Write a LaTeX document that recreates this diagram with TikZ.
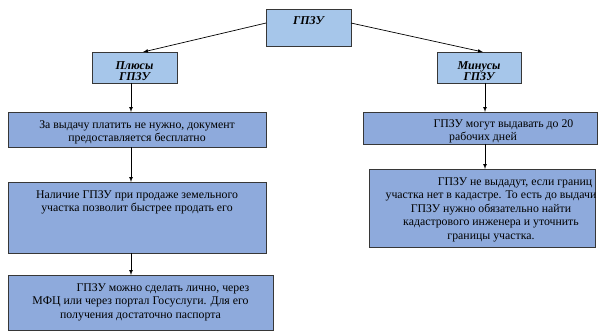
\documentclass[tikz,border=0pt]{standalone}
\usepackage{fontspec}
\setmainfont{Liberation Serif}
\usetikzlibrary{arrows, positioning}

\definecolor{headblue}{RGB}{166,198,234}
\definecolor{itemblue}{RGB}{142,170,220}
\definecolor{edgegray}{RGB}{55,55,55}

\tikzset{
  headbox/.style={draw=edgegray, line width=0.8pt, fill=headblue, anchor=north west, inner sep=0pt, outer sep=0pt},
  itembox/.style={draw=edgegray, line width=0.8pt, fill=itemblue, anchor=north west, inner sep=0pt, outer sep=0pt},
  headtext/.style={font=\fontsize{12}{11.5}\selectfont\bfseries\itshape, align=center, inner sep=0pt},
  itemtext/.style={font=\fontsize{11.8}{13.5}\selectfont, align=center, inner sep=0pt},
  link/.style={line width=0.7pt, black}
}

\begin{document}
\begin{tikzpicture}[x=1pt, y=1pt]
    \clip (0,0) rectangle (603,331);
    \fill[white] (0,0) rectangle (603,331);

    % header boxes
    \node[headbox, minimum width=85pt, minimum height=37pt] (top) at (266,322) {};
    \node[headbox, minimum width=85pt, minimum height=31pt] (plus) at (92,279) {};
    \node[headbox, minimum width=84pt, minimum height=31pt] (minus) at (437,279) {};
    \node[headtext, below=7pt of top.north] (topT) {ГПЗУ};
    \node[headtext, below=9pt of plus.north] (plusT) {Плюсы\\ГПЗУ};
    \node[headtext, below=9pt of minus.north] (minusT) {Минусы\\ГПЗУ};

    % left column
    \node[itembox, minimum width=258pt, minimum height=35pt] (P1) at (8,219) {};
    \node[itembox, minimum width=258pt, minimum height=71pt] (P2) at (8,149) {};
    \node[itembox, minimum width=265pt, minimum height=55.5pt] (P3) at (8,56) {};
    \node[itemtext, below=8pt of P1.north] (P1T) {За выдачу платить не нужно, документ\\предоставляется бесплатно};
    \node[itemtext, below=8pt of P2.north] (P2T) {Наличие ГПЗУ при продаже земельного\\участка позволит быстрее продать его};
    \node[itemtext, below=8pt of P3.north] (P3T) {\hspace*{45pt}ГПЗУ можно сделать лично, через\\МФЦ или через портал Госуслуги. Для его\\получения достаточно паспорта};

    % right column
    \node[itembox, minimum width=234pt, minimum height=32pt] (M1) at (363,219) {};
    \node[itembox, minimum width=226pt, minimum height=78pt] (M2) at (369,162) {};
    \node[itemtext, below=7pt of M1.north, xshift=3pt] (M1T) {\hspace*{41pt}ГПЗУ могут выдавать до 20\\рабочих дней};
    \node[itemtext, below=8pt of M2.north, xshift=9pt] (M2T) {\hspace*{48pt}ГПЗУ не выдадут, если границ\\участка нет в кадастре. То есть до выдачи\\ГПЗУ нужно обязательно найти\\кадастрового инженера и уточнить\\границы участка.};

    \coordinate (lcol) at (131,0);
    \coordinate (rcol) at (485,0);

    \draw[link,-latex] (top.174) -- (plus.61);
    \draw[link,-latex] (top.6) -- (minus.76);

    \draw[link,-latex] (plus.south -| lcol) -- (P1.north -| lcol);
    \draw[link,-latex] (P1.south -| lcol) -- (P2.north -| lcol);
    \draw[link,-latex] (P2.south -| lcol) -- (P3.north -| lcol);

    \draw[link,-latex] (minus.south -| rcol) -- (M1.north -| rcol);
    \draw[link,-latex] (M1.south -| rcol) -- (M2.north -| rcol);
\end{tikzpicture}
\end{document}
